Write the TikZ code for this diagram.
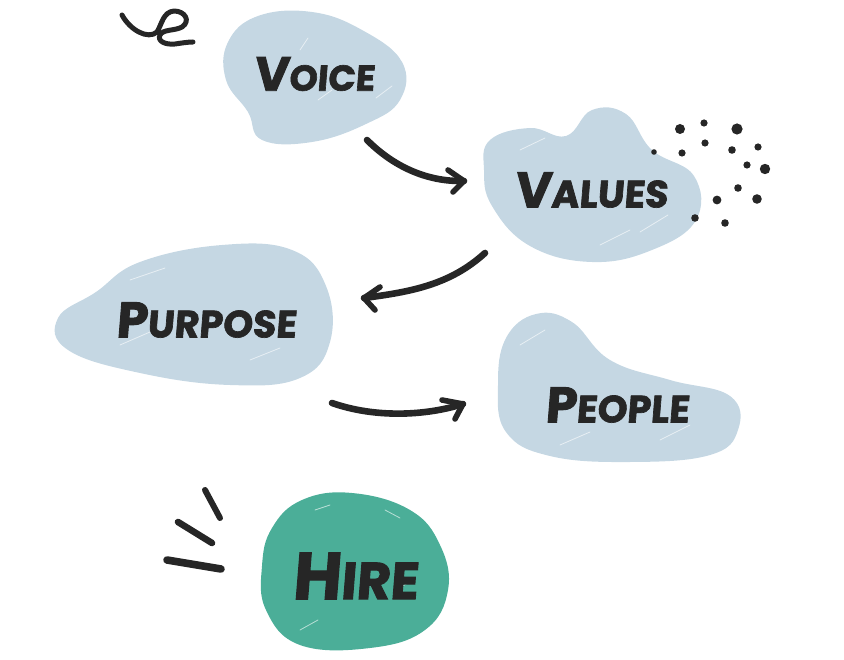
\documentclass[tikz,border=0pt]{standalone}
\usepackage{fontspec}
\setmainfont{Poppins}
\newfontfamily\handfont{Poppins}[FakeBold=1.8, FakeSlant=0.08]
\definecolor{blobblue}{HTML}{C5D7E3}
\definecolor{blobteal}{HTML}{4BAE98}
\definecolor{ink}{HTML}{262626}
\tikzset{
  blob/.style={fill=blobblue, draw=none},
  hireblob/.style={fill=blobteal, draw=none},
  lbl/.style={text=ink, font=\handfont\bfseries, inner sep=0pt},
  brush/.style={draw=ink, line width=6.6pt, line cap=round, line join=round},
  chev/.style={draw=ink, line width=5.6pt, line cap=round, line join=round},
  dot/.style={fill=ink, draw=none},
  hatch/.style={draw=white, line width=0.8pt, opacity=0.6, line cap=round},
}
\newcommand{\lblword}[4]{{\fontsize{#1}{#1}\selectfont #3}{\fontsize{#2}{#2}\selectfont #4}}
\begin{document}
\begin{tikzpicture}[x=1pt,y=-1pt]
\useasboundingbox (0,0) rectangle (844,660);
% blobs
\fill[blob] plot[smooth cycle, tension=0.7] coordinates {(228,42) (258,16) (312,12) (362,30) (402,62) (400,100) (366,124) (312,142) (262,140) (248,112) (226,80)};
\fill[blob] plot[smooth cycle, tension=0.7] coordinates {(490,140) (530,128) (566,136) (592,110) (626,114) (652,150) (694,176) (696,220) (652,250) (592,262) (530,246) (492,206) (484,170)};
\fill[blob] plot[smooth cycle, tension=0.7] coordinates {(58,318) (96,292) (140,262) (222,245) (292,250) (326,286) (330,342) (300,378) (230,385) (140,373) (68,350)};
\fill[blob] plot[smooth cycle, tension=0.7] coordinates {(506,338) (536,314) (572,322) (610,360) (670,380) (730,396) (738,430) (710,455) (630,462) (550,456) (506,432) (498,385)};
\fill[hireblob] plot[smooth cycle, tension=0.7] coordinates {(272,528) (302,500) (352,493) (410,510) (440,545) (448,590) (425,630) (370,648) (300,645) (266,610) (262,566)};
% faint white brush hatches
\draw[hatch] (300,50) -- (308,38);
\draw[hatch] (318,100) -- (332,90); \draw[hatch] (376,98) -- (392,86);
\draw[hatch] (520,150) -- (545,138); \draw[hatch] (640,232) -- (668,215); \draw[hatch] (600,245) -- (630,230);
\draw[hatch] (130,280) -- (165,268); \draw[hatch] (120,345) -- (150,332); \draw[hatch] (250,360) -- (280,348);
\draw[hatch] (520,345) -- (545,330); \draw[hatch] (660,440) -- (690,425); \draw[hatch] (560,445) -- (590,432);
\draw[hatch] (315,510) -- (330,505); \draw[hatch] (385,510) -- (400,518); \draw[hatch] (395,590) -- (410,582); \draw[hatch] (300,630) -- (318,620);
% labels
\node[lbl] (voice) at (314,74) {\lblword{48}{36}{V}{OICE}};
\node[lbl] (values) at (591,190) {\lblword{50}{38}{V}{ALUES}};
\node[lbl] (purpose) at (206,320) {\lblword{50}{38}{P}{URPOSE}};
\node[lbl] (people) at (617,405) {\lblword{50}{38}{P}{EOPLE}};
\node[lbl] (hire) at (355,576) {\lblword{66}{52}{H}{IRE}};
% arrows
\coordinate (a1s) at (367,140); \coordinate (a1e) at (464,181);
\draw[brush] (a1s) .. controls (392,165) and (425,182) .. (a1e);
\draw[chev] (448,170) -- (a1e) -- (453,192);
\coordinate (a2s) at (485,253); \coordinate (a2e) at (364,298);
\draw[brush] (a2s) .. controls (450,285) and (410,292) .. (a2e);
\draw[chev] (380,287) -- (a2e) -- (375,310);
\coordinate (a3s) at (332,403); \coordinate (a3e) at (463,404);
\draw[brush] (a3s) .. controls (375,418) and (425,416) .. (a3e);
\draw[chev] (442,400) -- (a3e) -- (455,419);
% squiggle
\coordinate (sq0) at (122,15); \coordinate (sq6) at (193,42);
\draw[draw=ink, line width=5pt, line cap=round, line join=round]
  (sq0) .. controls (130,30) and (148,40) .. (157,32)
  .. controls (162,24) and (163,12) .. (174,11)
  .. controls (185,11) and (191,21) .. (182,27)
  .. controls (175,31) and (163,29) .. (160,35)
  .. controls (157,41) and (165,45) .. (175,44)
  .. controls (182,43) and (188,42) .. (sq6);
% dots
\foreach \p/\r in {(680,129)/5, (704,123)/3.6, (737,129)/5.6, (705,143)/3.6, (732,150)/3.8, (758,147)/3.6, (682,153)/3.6, (654,152)/2.8, (747,165)/3.6, (765,169)/5.2, (738,188)/3.8, (717,200)/4.4, (757,199)/4.8, (695,218)/3.8, (725,223)/3.8}
  \fill[dot] \p circle (\r);
% strokes near Hire
\draw[draw=ink, line width=6pt, line cap=round] (205,490) -- (220,518);
\draw[draw=ink, line width=6.6pt, line cap=round] (178,522) -- (212,543);
\draw[draw=ink, line width=7.6pt, line cap=round] (167,560) -- (221,569);
\end{tikzpicture}
\end{document}
